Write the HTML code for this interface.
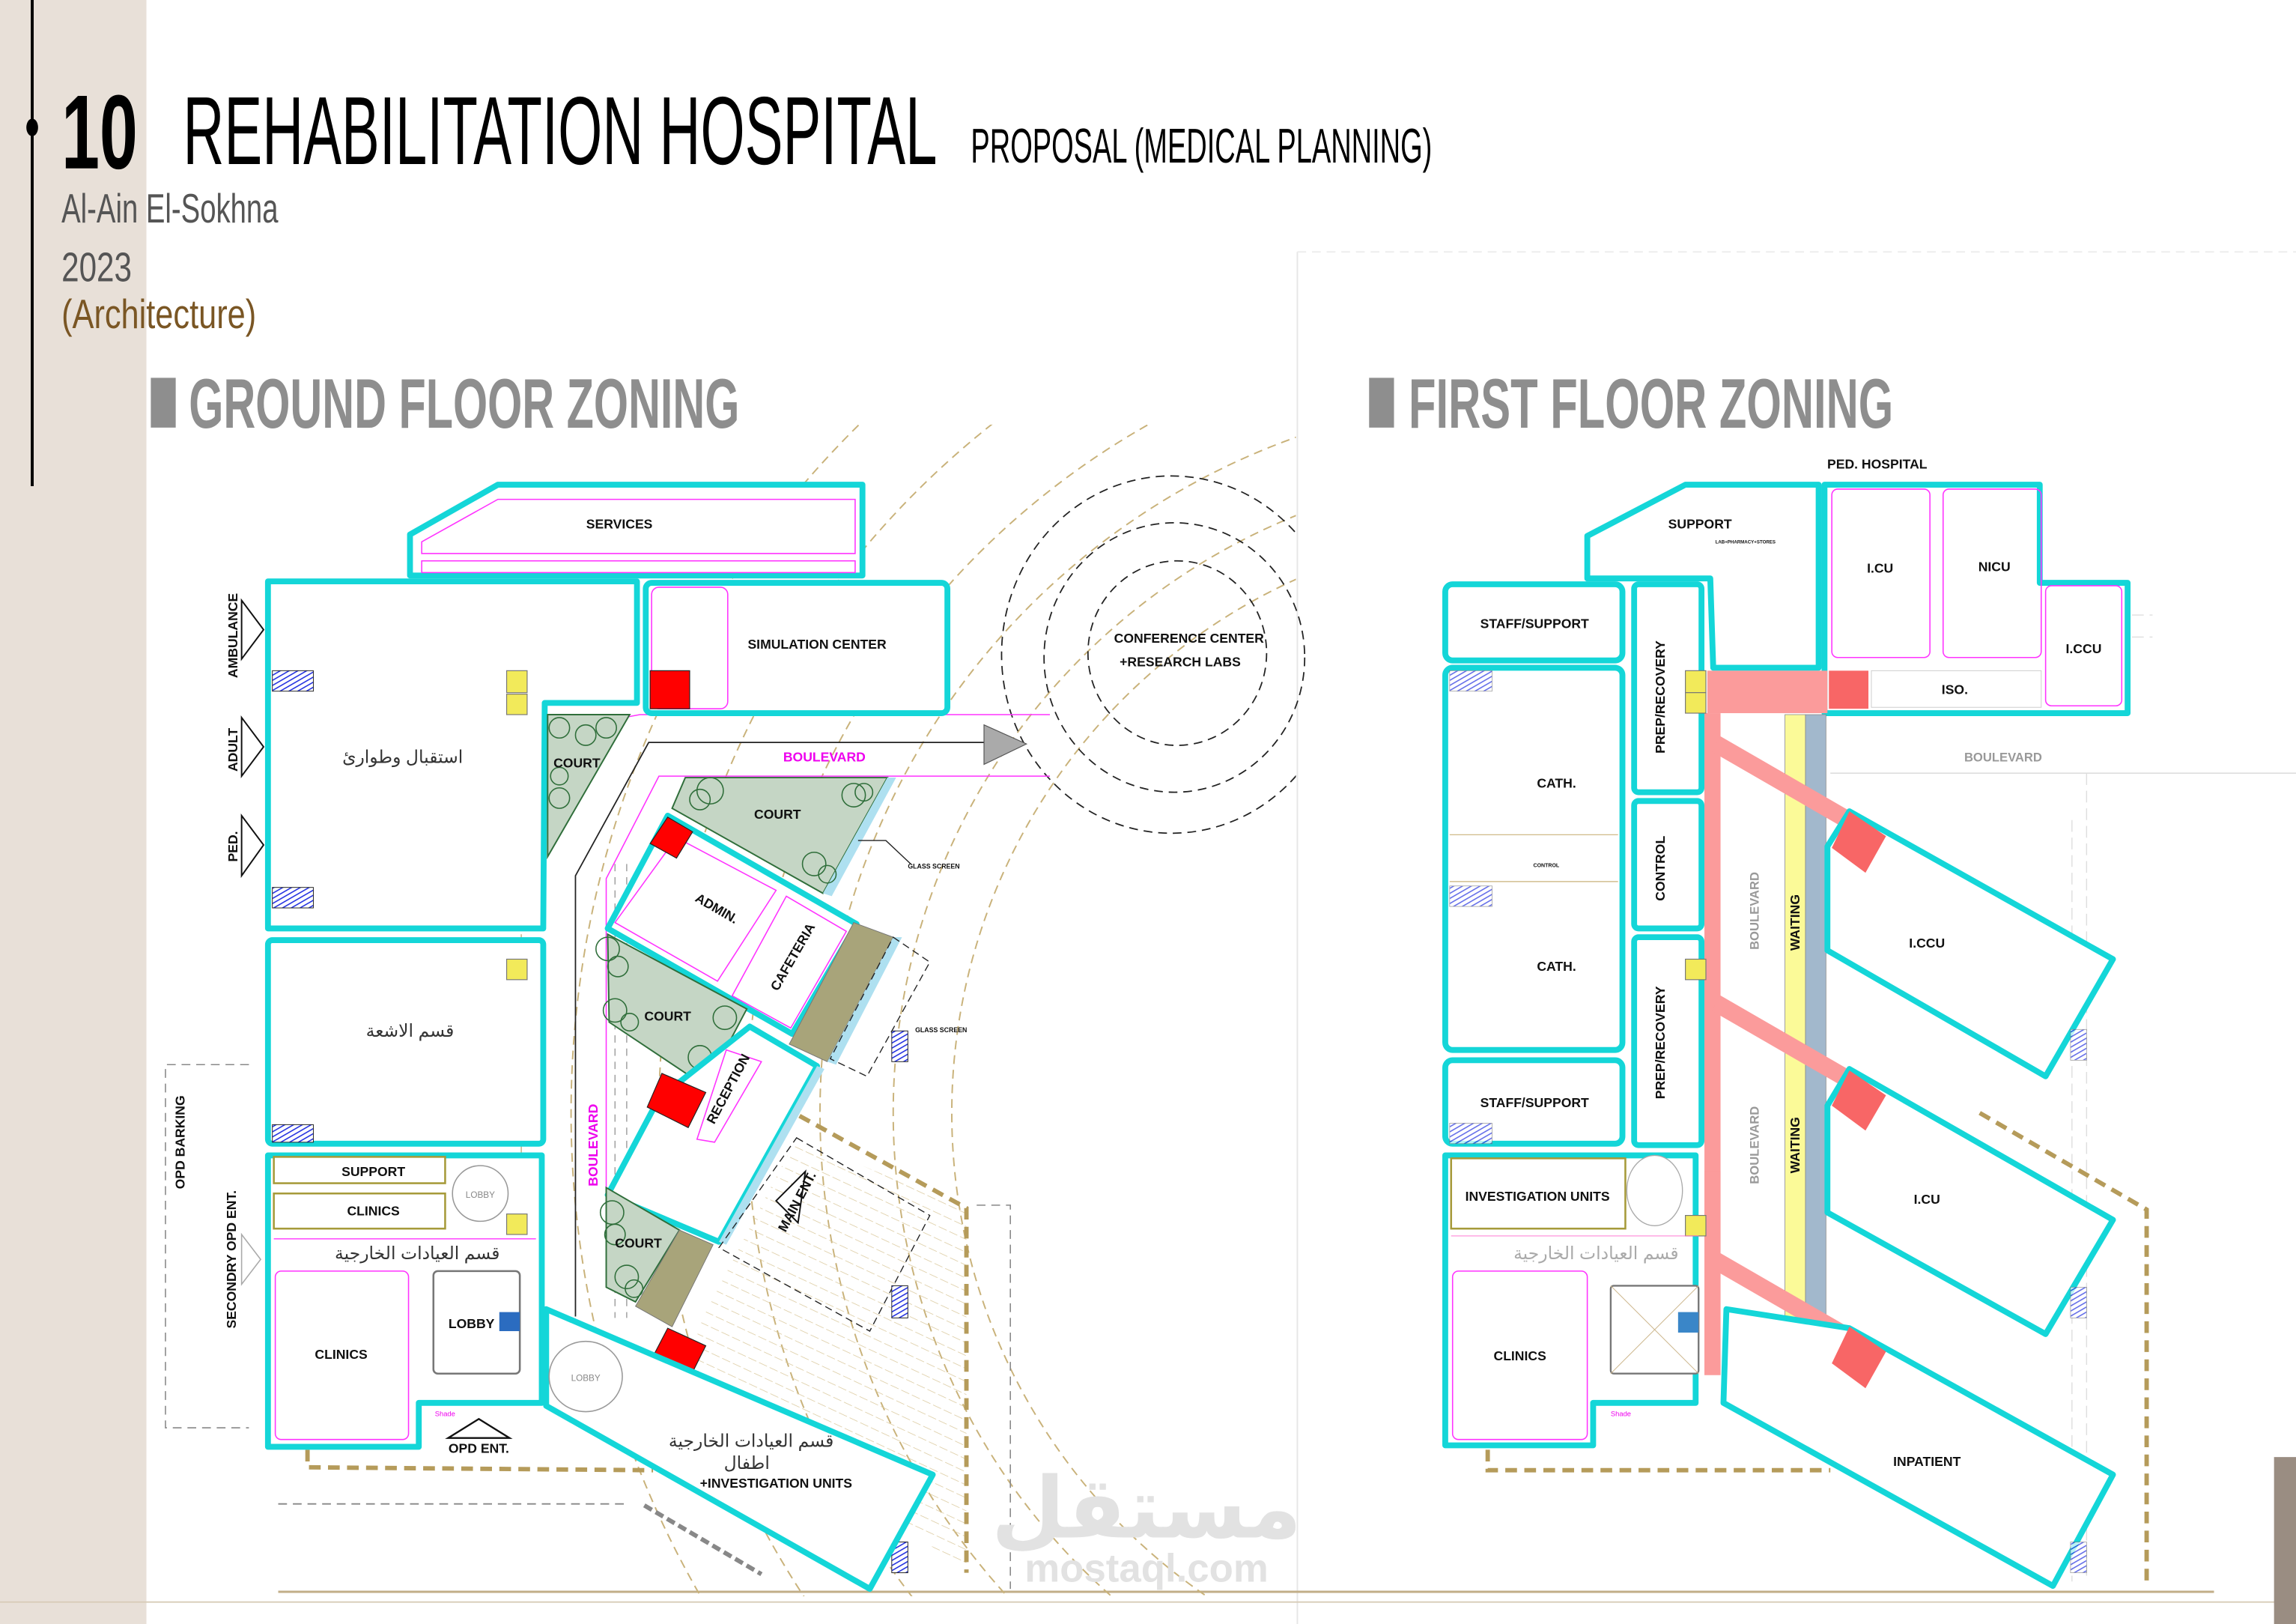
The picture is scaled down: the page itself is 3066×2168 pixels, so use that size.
<!DOCTYPE html>
<html><head><meta charset="utf-8">
<style>
html,body{margin:0;padding:0;background:#fff;width:3066px;height:2168px;overflow:hidden;}
svg{display:block;}
.c{fill:#fff;stroke:#14d6d8;stroke-width:4;stroke-linejoin:round;}
.m{fill:none;stroke:#ff33ff;stroke-width:0.8;}
.l{font-family:"Liberation Sans",sans-serif;font-weight:bold;font-size:9px;fill:#111;}
.ar{font-family:"Liberation Sans","DejaVu Sans",sans-serif;font-size:12px;fill:#333;}
.y{fill:#f2ea5a;stroke:#777;stroke-width:0.6;}
.r{fill:#ff0000;stroke:#222;stroke-width:0.6;}
.g{fill:#c5d6c5;stroke:#2f6e3a;stroke-width:1;}
.o{fill:#a8a47a;stroke:#777;stroke-width:0.5;}
.t{fill:none;stroke:#c9b27a;stroke-width:1;stroke-dasharray:6 4;}
.td{fill:none;stroke:#b59b5a;stroke-width:3;stroke-dasharray:8 5;}
.k{fill:none;stroke:#222;stroke-width:0.9;stroke-dasharray:6 4;}
.p{fill:#fb9b9b;}
</style></head><body>
<svg width="3066" height="2168" viewBox="0 0 1568 1109" preserveAspectRatio="none" xmlns="http://www.w3.org/2000/svg">
<defs>
<pattern id="bh" width="3" height="3" patternUnits="userSpaceOnUse" patternTransform="rotate(60)"><rect width="3" height="3" fill="#fff"/><line x1="0" y1="0" x2="0" y2="3" stroke="#2230e0" stroke-width="1.6"/></pattern>
<pattern id="th" width="8" height="8" patternUnits="userSpaceOnUse" patternTransform="rotate(25)"><line x1="0" y1="0" x2="8" y2="0" stroke="#d9c79a" stroke-width="0.8" stroke-dasharray="5 2"/></pattern>
<clipPath id="gc"><rect x="360" y="290" width="525" height="800"/></clipPath>
<clipPath id="cc"><rect x="600" y="300" width="285" height="300"/></clipPath>
</defs>
<rect x="0" y="0" width="100" height="1109" fill="#e8e0d8"/>
<line x1="22" y1="0" x2="22" y2="332" stroke="#000" stroke-width="2"/>
<ellipse cx="22" cy="87" rx="4" ry="6" fill="#000"/>
<text x="42" y="115" font-family="'Liberation Sans Narrow','Liberation Sans',sans-serif" font-weight="bold" font-size="72" textLength="52" lengthAdjust="spacingAndGlyphs" fill="#000">10</text>
<text x="125" y="112" font-family="'Liberation Sans Narrow','Liberation Sans',sans-serif" font-size="66" textLength="515" lengthAdjust="spacingAndGlyphs" fill="#000">REHABILITATION HOSPITAL</text>
<text x="663" y="111" font-family="'Liberation Sans Narrow','Liberation Sans',sans-serif" font-size="33" textLength="315" lengthAdjust="spacingAndGlyphs" fill="#000">PROPOSAL (MEDICAL PLANNING)</text>
<text x="42" y="152" font-family="'Liberation Sans Narrow','Liberation Sans',sans-serif" font-size="28" textLength="148" lengthAdjust="spacingAndGlyphs" fill="#555">Al-Ain El-Sokhna</text>
<text x="42" y="192" font-family="'Liberation Sans Narrow','Liberation Sans',sans-serif" font-size="28" textLength="48" lengthAdjust="spacingAndGlyphs" fill="#555">2023</text>
<text x="42" y="224" font-family="'Liberation Sans Narrow','Liberation Sans',sans-serif" font-size="28" textLength="133" lengthAdjust="spacingAndGlyphs" fill="#7a5624">(Architecture)</text>
<rect x="103" y="258" width="17" height="34" fill="#8e8e8e"/>
<text x="129" y="292" font-family="'Liberation Sans Narrow','Liberation Sans',sans-serif" font-weight="bold" font-size="48" textLength="376" lengthAdjust="spacingAndGlyphs" fill="#8e8e8e">GROUND FLOOR ZONING</text>
<rect x="935" y="258" width="17" height="34" fill="#8e8e8e"/>
<text x="962" y="292" font-family="'Liberation Sans Narrow','Liberation Sans',sans-serif" font-weight="bold" font-size="48" textLength="331" lengthAdjust="spacingAndGlyphs" fill="#8e8e8e">FIRST FLOOR ZONING</text>
<line x1="886" y1="172" x2="886" y2="1109" stroke="#e6e6e6" stroke-width="1"/>
<line x1="886" y1="172" x2="1568" y2="172" stroke="#eee" stroke-dasharray="6 4"/>
<line x1="190" y1="1087" x2="1512" y2="1087" stroke="#c2ae88" stroke-width="1.5"/>
<line x1="0" y1="1094" x2="1568" y2="1094" stroke="#d8ccb8" stroke-width="1"/>
<rect x="1553" y="995" width="15" height="114" fill="#9a8d82"/>

<g clip-path="url(#gc)">
<circle cx="1050" cy="760" r="400" class="t"/>
<circle cx="1050" cy="760" r="440" class="t"/>
<circle cx="1050" cy="760" r="490" class="t"/>
<circle cx="1050" cy="760" r="540" class="t"/>
<circle cx="1050" cy="760" r="600" class="t"/>
<circle cx="1050" cy="760" r="660" class="t"/>
</g>
<polygon points="544,777 660,826 660,1074 470,930 480,900" fill="url(#th)"/>
<polyline points="546,762 660,825 660,1074" class="td"/>
<polyline points="210,990 210,1002 446,1004" class="td"/>
<line x1="190" y1="1027" x2="430" y2="1027" stroke="#888" stroke-dasharray="6 4"/>
<line x1="440" y1="1028" x2="520" y2="1075" stroke="#888" stroke-width="3" stroke-dasharray="6 3"/>
<polyline points="667,823 690,823 690,1085" fill="none" stroke="#888" stroke-dasharray="6 4" stroke-width="0.8"/>
<g clip-path="url(#cc)">
<ellipse cx="800" cy="447" rx="116" ry="122" class="k"/>
</g>
<ellipse cx="802" cy="449" rx="89" ry="92" class="k"/>
<ellipse cx="804" cy="446" rx="61" ry="63" class="k"/>
<text x="812" y="439" class="l" font-size="8.5" text-anchor="middle">CONFERENCE CENTER</text>
<text x="806" y="455" class="l" font-size="8.5" text-anchor="middle">+RESEARCH LABS</text>
<polyline points="393,899 393,598 443,507 672,507" fill="none" stroke="#222" stroke-width="0.9"/>
<polygon points="672,495 701,508 672,522" fill="#aaa" stroke="#555" stroke-width="0.6"/>
<polyline points="372,580 372,500 437,488 717,488" class="m"/>
<polyline points="414,815 414,600 450,530 717,530" class="m"/>
<line x1="420" y1="590" x2="420" y2="900" stroke="#999" stroke-dasharray="5 4" stroke-width="0.7"/>
<line x1="428" y1="590" x2="428" y2="900" stroke="#999" stroke-dasharray="5 4" stroke-width="0.7"/>
<line x1="356" y1="470" x2="356" y2="895" stroke="#cbb58a" stroke-dasharray="5 3" stroke-width="0.8"/>
<text x="563" y="520" font-family="'Liberation Sans',sans-serif" font-weight="bold" font-size="9" fill="#ee00ee" text-anchor="middle">BOULEVARD</text>
<text transform="translate(408,782) rotate(-90)" font-family="'Liberation Sans',sans-serif" font-weight="bold" font-size="9" fill="#ee00ee" text-anchor="middle">BOULEVARD</text>

<polygon class="c" points="280,365 340,331 589,331 589,393 280,393"/>
<polygon class="m" points="288,370 340,341 584,341 584,378 288,378"/>
<rect class="m" x="288" y="383" width="296" height="8"/>
<text x="423" y="361" class="l" text-anchor="middle">SERVICES</text>
<polygon class="c" points="183,397 435,397 435,480 372,480 371,634 183,634"/>
<text x="275" y="521" class="ar" text-anchor="middle">استقبال وطوارئ</text>
<rect x="186" y="458" width="28" height="14" fill="url(#bh)" stroke="#222" stroke-width="0.5"/>
<rect x="186" y="606" width="28" height="14" fill="url(#bh)" stroke="#222" stroke-width="0.5"/>
<rect class="y" x="346" y="458" width="14" height="15"/>
<rect class="y" x="346" y="474" width="14" height="14"/>
<polygon class="g" points="374,488 430,488 374,585"/>
<g fill="none" stroke="#2f6e3a" stroke-width="0.8"><circle cx="382" cy="497" r="7"/><circle cx="400" cy="502" r="7"/><circle cx="414" cy="497" r="7"/><circle cx="382" cy="545" r="7"/><circle cx="382" cy="530" r="6"/></g>
<text x="378" y="524" class="l" font-size="8">COURT</text>
<rect class="c" x="441" y="398" width="206" height="89" rx="4"/>
<rect class="m" x="445" y="401" width="52" height="83" rx="5"/>
<rect class="r" x="444" y="458" width="27" height="26"/>
<text x="558" y="443" class="l" text-anchor="middle">SIMULATION CENTER</text>
<rect class="c" x="183" y="642" width="188" height="139" rx="3"/>
<text x="280" y="708" class="ar" text-anchor="middle">قسم الاشعة</text>
<rect class="y" x="346" y="655" width="14" height="14"/>
<rect x="186" y="768" width="28" height="12" fill="url(#bh)" stroke="#222" stroke-width="0.5"/>
<polygon class="c" points="183,789 370,789 370,958 286,958 286,988 183,988"/>
<rect x="187" y="790" width="117" height="18" fill="#fff" stroke="#a69a3a" stroke-width="1.3"/>
<text x="255" y="803" class="l" text-anchor="middle">SUPPORT</text>
<rect x="187" y="815" width="117" height="24" fill="#fff" stroke="#a69a3a" stroke-width="1.3"/>
<text x="255" y="830" class="l" text-anchor="middle">CLINICS</text>
<circle cx="328" cy="815" r="19" fill="#fff" stroke="#999" stroke-width="0.8"/>
<text transform="translate(328,818) scale(0.5)" font-family="'Liberation Sans',sans-serif" font-size="12" fill="#888" text-anchor="middle">LOBBY</text>
<rect class="y" x="346" y="829" width="14" height="14"/>
<line x1="187" y1="846" x2="366" y2="846" stroke="#ff33ff" stroke-width="0.7"/>
<text x="285" y="860" class="ar" font-size="11" text-anchor="middle">قسم العيادات الخارجية</text>
<rect class="m" x="188" y="868" width="91" height="115" rx="4"/>
<text x="233" y="928" class="l" text-anchor="middle">CLINICS</text>
<rect x="296" y="868" width="59" height="70" rx="3" fill="#fff" stroke="#777" stroke-width="1.3"/>
<text x="322" y="907" class="l" text-anchor="middle">LOBBY</text>
<rect x="341" y="896" width="14" height="13" fill="#2b6cc0"/>
<text transform="translate(297,967) scale(0.4)" font-family="'Liberation Sans',sans-serif" font-size="12" fill="#e0e">Shade</text>
<polygon points="306,982 327,969 348,982" fill="none" stroke="#111" stroke-width="1.2"/>
<text x="327" y="992" class="l" font-size="8.5" text-anchor="middle">OPD ENT.</text>
<g fill="none" stroke="#111" stroke-width="1"><polygon points="165,410 180,430 165,450"/><polygon points="165,490 180,510 165,530"/><polygon points="165,557 180,577 165,598"/></g>
<text transform="translate(162,434) rotate(-90)" class="l" font-size="8" text-anchor="middle">AMBULANCE</text>
<text transform="translate(162,512) rotate(-90)" class="l" font-size="8" text-anchor="middle">ADULT</text>
<text transform="translate(162,578) rotate(-90)" class="l" font-size="8" text-anchor="middle">PED.</text>
<polyline points="170,727 113,727 113,975 170,975" fill="none" stroke="#888" stroke-dasharray="6 4" stroke-width="0.8"/>
<polygon points="165,843 178,860 165,877" fill="none" stroke="#aaa" stroke-width="0.8"/>
<text transform="translate(126,780) rotate(-90)" class="l" font-size="7.5" text-anchor="middle">OPD BARKING</text>
<text transform="translate(161,860) rotate(-90)" class="l" font-size="7.5" text-anchor="middle">SECONDRY OPD ENT.</text>
<polygon class="g" points="468,531 606,531 562,610 459,552"/>
<polygon points="606,531 612,531 568,612 562,610" fill="#aee0f0"/>
<g fill="none" stroke="#2f6e3a" stroke-width="0.8"><circle cx="485" cy="540" r="9"/><circle cx="478" cy="546" r="7"/><circle cx="583" cy="543" r="8"/><circle cx="590" cy="541" r="6"/><circle cx="556" cy="590" r="8"/><circle cx="565" cy="597" r="6"/></g>
<text x="531" y="559" class="l" text-anchor="middle">COURT</text>
<polygon class="c" points="456,557 585,631 541,706 415,634"/>
<polygon class="m" points="462,572 530,608 490,670 420,630"/>
<polygon class="m" points="537,612 578,636 540,702 500,680"/>
<text transform="translate(488,623) rotate(30)" class="l" text-anchor="middle">ADMIN.</text>
<text transform="translate(544,655) rotate(-60)" class="l" text-anchor="middle">CAFETERIA</text>
<polygon class="r" points="456,558 473,568 462,586 444,576"/>
<polygon class="o" points="583,630 610,640 565,725 539,713"/>
<polygon points="610,640 616,640 571,727 565,725" fill="#aee0f0"/>
<polygon class="g" points="415,638 510,689 482,742 416,698"/>
<g fill="none" stroke="#2f6e3a" stroke-width="0.8"><circle cx="415" cy="648" r="8"/><circle cx="422" cy="660" r="7"/><circle cx="420" cy="690" r="8"/><circle cx="430" cy="698" r="6"/><circle cx="495" cy="695" r="8"/><circle cx="478" cy="722" r="8"/><circle cx="488" cy="730" r="6"/></g>
<text x="456" y="697" class="l" text-anchor="middle">COURT</text>
<polygon class="c" points="415,816 450,750 512,701 558,728 491,848"/>
<polygon class="m" points="496,717 520,725 488,780 476,778"/>
<text transform="translate(500,745) rotate(-62)" class="l" text-anchor="middle">RECEPTION</text>
<polygon class="r" points="452,733 482,746 470,770 442,756"/>
<polygon points="558,728 563,730 496,850 491,848" fill="#aee0f0"/>
<polygon class="g" points="414,811 464,840 434,889 414,879"/>
<g fill="none" stroke="#2f6e3a" stroke-width="0.8"><circle cx="418" cy="828" r="8"/><circle cx="420" cy="843" r="7"/><circle cx="428" cy="872" r="8"/><circle cx="433" cy="880" r="6"/></g>
<text x="436" y="852" class="l" text-anchor="middle">COURT</text>
<polygon class="o" points="464,840 487,850 459,906 434,892"/>
<polygon class="r" points="456,907 482,919 470,943 444,930"/>
<polyline points="586,574 605,574 622,590" fill="none" stroke="#222" stroke-width="0.7"/>
<text transform="translate(620,593) scale(0.5)" class="l" font-size="11">GLASS SCREEN</text>
<text transform="translate(625,705) scale(0.5)" class="l" font-size="11">GLASS SCREEN</text>
<polygon points="610,640 635,657 592,735 567,723" fill="none" stroke="#222" stroke-width="0.7" stroke-dasharray="5 3"/>
<polygon points="544,777 635,830 594,909 491,852" fill="none" stroke="#222" stroke-width="0.7" stroke-dasharray="5 3"/>
<polygon points="530,820 550,800 545,835" fill="#fff" stroke="#111" stroke-width="1"/>
<text transform="translate(547,822) rotate(-62)" class="l" font-size="8" text-anchor="middle">MAIN ENT.</text>
<rect x="609" y="704" width="11" height="21" fill="url(#bh)" stroke="#222" stroke-width="0.5"/>
<rect x="609" y="878" width="11" height="22" fill="url(#bh)" stroke="#222" stroke-width="0.5"/>
<rect x="609" y="1053" width="11" height="21" fill="url(#bh)" stroke="#222" stroke-width="0.5"/>
<polygon class="c" points="373,894 637,1007 594,1085 373,960"/>
<ellipse cx="400" cy="940" rx="25" ry="24" fill="#fff" stroke="#999" stroke-width="0.8"/>
<text transform="translate(400,943) scale(0.5)" font-family="'Liberation Sans',sans-serif" font-size="12" fill="#888" text-anchor="middle">LOBBY</text>
<text x="513" y="988" class="ar" font-size="11" text-anchor="middle">قسم العيادات الخارجية</text>
<text x="510" y="1003" class="ar" font-size="11" text-anchor="middle">اطفال</text>
<text x="530" y="1016" class="l" text-anchor="middle">+INVESTIGATION UNITS</text>

<text x="783" y="1050" font-family="'Liberation Sans','DejaVu Sans',sans-serif" font-weight="bold" font-size="58" fill="#e2e2e2" text-anchor="middle">مستقل</text>
<text x="783" y="1080" font-family="'Liberation Sans',sans-serif" font-weight="bold" font-size="27" fill="#e2e2e2" text-anchor="middle">mostaql.com</text>

<line x1="1250" y1="528" x2="1568" y2="528" stroke="#ddd" stroke-width="0.8"/>
<g stroke="#ddd" stroke-width="0.7" stroke-dasharray="8 4"><line x1="1415" y1="560" x2="1415" y2="1080"/><line x1="1425" y1="528" x2="1425" y2="1080"/><line x1="1180" y1="420" x2="1470" y2="420"/><line x1="1180" y1="435" x2="1470" y2="435"/></g>
<text x="1282" y="320" class="l" font-size="8.5" text-anchor="middle">PED. HOSPITAL</text>
<polygon class="c" points="1084,366 1151,331 1242,331 1242,456 1170,456 1168,395 1084,395"/>
<text x="1161" y="361" class="l" text-anchor="middle">SUPPORT</text>
<text transform="translate(1192,371) scale(0.35)" class="l" font-size="11" text-anchor="middle">LAB+PHARMACY+STORES</text>
<polygon class="c" points="1246,331 1393,331 1393,398 1453,398 1453,487 1246,487"/>
<rect class="m" x="1251" y="334" width="67" height="115" rx="4"/>
<rect class="m" x="1327" y="334" width="67" height="115" rx="4"/>
<rect class="m" x="1397" y="400" width="52" height="82" rx="4"/>
<rect x="1278" y="458" width="116" height="25" fill="#fff" stroke="#ccc" stroke-width="0.5"/>
<text x="1284" y="391" class="l" text-anchor="middle">I.CU</text>
<text x="1362" y="390" class="l" text-anchor="middle">NICU</text>
<text x="1423" y="446" class="l" text-anchor="middle">I.CCU</text>
<text x="1335" y="474" class="l" text-anchor="middle">ISO.</text>
<rect class="p" x="1166" y="458" width="82" height="29"/>
<rect x="1249" y="458" width="27" height="26" fill="#f86666"/>
<rect class="p" x="1164" y="487" width="11" height="452"/>
<rect x="1219" y="488" width="14" height="431" fill="#fbfa98" stroke="#888" stroke-width="0.4"/>
<rect x="1233" y="488" width="14" height="443" fill="#a2b8cc" stroke="#888" stroke-width="0.4"/>
<g stroke="#fb9b9b" stroke-width="12"><line x1="1172" y1="508" x2="1262" y2="560"/><line x1="1172" y1="685" x2="1262" y2="737"/><line x1="1172" y1="861" x2="1262" y2="913"/></g>
<text x="1368" y="520" font-family="'Liberation Sans',sans-serif" font-weight="bold" font-size="8.5" fill="#999" text-anchor="middle">BOULEVARD</text>
<text transform="translate(1201,622) rotate(-90)" font-family="'Liberation Sans',sans-serif" font-weight="bold" font-size="8.5" fill="#999" text-anchor="middle">BOULEVARD</text>
<text transform="translate(1201,782) rotate(-90)" font-family="'Liberation Sans',sans-serif" font-weight="bold" font-size="8.5" fill="#999" text-anchor="middle">BOULEVARD</text>
<text transform="translate(1229,630) rotate(-90)" class="l" font-size="8.5" text-anchor="middle">WAITING</text>
<text transform="translate(1229,782) rotate(-90)" class="l" font-size="8.5" text-anchor="middle">WAITING</text>
<rect class="c" x="987" y="399" width="121" height="52" rx="5"/>
<text x="1048" y="429" class="l" text-anchor="middle">STAFF/SUPPORT</text>
<rect class="c" x="987" y="456" width="121" height="261" rx="5"/>
<line x1="990" y1="570" x2="1105" y2="570" stroke="#c9b27a" stroke-width="0.6"/>
<line x1="990" y1="602" x2="1105" y2="602" stroke="#c9b27a" stroke-width="0.6"/>
<text x="1063" y="538" class="l" text-anchor="middle">CATH.</text>
<text transform="translate(1056,592) scale(0.4)" class="l" font-size="10" text-anchor="middle">CONTROL</text>
<text x="1063" y="663" class="l" text-anchor="middle">CATH.</text>
<rect x="990" y="458" width="29" height="14" fill="url(#bh)" stroke="#777" stroke-width="0.4" opacity="0.7"/>
<rect x="990" y="605" width="29" height="14" fill="url(#bh)" stroke="#777" stroke-width="0.4" opacity="0.7"/>
<rect class="c" x="987" y="724" width="121" height="57" rx="5"/>
<text x="1048" y="756" class="l" text-anchor="middle">STAFF/SUPPORT</text>
<rect x="990" y="767" width="29" height="14" fill="url(#bh)" stroke="#777" stroke-width="0.4" opacity="0.7"/>
<rect class="c" x="1116" y="399" width="46" height="142" rx="3"/>
<text transform="translate(1137,476) rotate(-90)" class="l" text-anchor="middle">PREP/RECOVERY</text>
<rect class="c" x="1116" y="547" width="46" height="87" rx="3"/>
<text transform="translate(1137,593) rotate(-90)" class="l" text-anchor="middle">CONTROL</text>
<rect class="c" x="1116" y="640" width="46" height="142" rx="3"/>
<text transform="translate(1137,712) rotate(-90)" class="l" text-anchor="middle">PREP/RECOVERY</text>
<rect class="y" x="1151" y="458" width="14" height="15"/>
<rect class="y" x="1151" y="473" width="14" height="14"/>
<rect class="y" x="1151" y="655" width="14" height="14"/>
<polygon class="c" points="987,789 1158,789 1158,958 1088,958 1088,987 987,987"/>
<rect class="p" x="1164" y="800" width="11" height="139"/>
<rect x="991" y="791" width="119" height="48" fill="#fff" stroke="#a69a3a" stroke-width="1.3"/>
<text x="1050" y="820" class="l" text-anchor="middle">INVESTIGATION UNITS</text>
<ellipse cx="1130" cy="813" rx="19" ry="24" fill="#fff" stroke="#aaa" stroke-width="0.7"/>
<rect class="y" x="1151" y="830" width="14" height="14"/>
<line x1="991" y1="844" x2="1160" y2="844" stroke="#f6c" stroke-width="0.5"/>
<text x="1090" y="860" class="ar" font-size="10" text-anchor="middle" style="fill:#aaa">قسم العيادات الخارجية</text>
<rect class="m" x="992" y="868" width="92" height="115" rx="4"/>
<text x="1038" y="929" class="l" text-anchor="middle">CLINICS</text>
<rect x="1100" y="878" width="60" height="60" rx="2" fill="#fff" stroke="#777" stroke-width="1.2"/>
<g stroke="#cbb58a" stroke-width="0.5"><line x1="1100" y1="878" x2="1160" y2="938"/><line x1="1160" y1="878" x2="1100" y2="938"/></g>
<rect x="1146" y="896" width="14" height="14" fill="#3a86c8"/>
<text transform="translate(1100,967) scale(0.4)" font-family="'Liberation Sans',sans-serif" font-size="12" fill="#e0e">Shade</text>
<polyline points="1016,990 1016,1004 1250,1004" class="td"/>
<polyline points="1352,760 1466,826 1466,1080" class="td"/>
<circle cx="1205" cy="940" r="26" fill="none" stroke="#bbb" stroke-width="0.7"/>
<polygon class="c" points="1263,554 1443,655 1397,735 1248,649 1248,578"/>
<polygon points="1263,554 1288,571 1274,596 1251,579" fill="#f86666"/>
<text x="1316" y="647" class="l" text-anchor="middle">I.CCU</text>
<polygon class="c" points="1263,730 1443,833 1397,911 1248,828 1248,755"/>
<polygon points="1263,731 1288,748 1274,772 1251,755" fill="#f86666"/>
<text x="1316" y="822" class="l" text-anchor="middle">I.CU</text>
<polygon class="c" points="1179,894 1263,907 1443,1007 1402,1083 1177,958"/>
<polygon points="1263,906 1288,923 1274,948 1251,931" fill="#f86666"/>
<text x="1316" y="1001" class="l" text-anchor="middle">INPATIENT</text>
<rect x="1414" y="703" width="11" height="21" fill="url(#bh)" stroke="#777" stroke-width="0.4" opacity="0.7"/>
<rect x="1414" y="879" width="11" height="21" fill="url(#bh)" stroke="#777" stroke-width="0.4" opacity="0.7"/>
<rect x="1414" y="1053" width="11" height="21" fill="url(#bh)" stroke="#777" stroke-width="0.4" opacity="0.7"/>
</svg>
</body></html>
